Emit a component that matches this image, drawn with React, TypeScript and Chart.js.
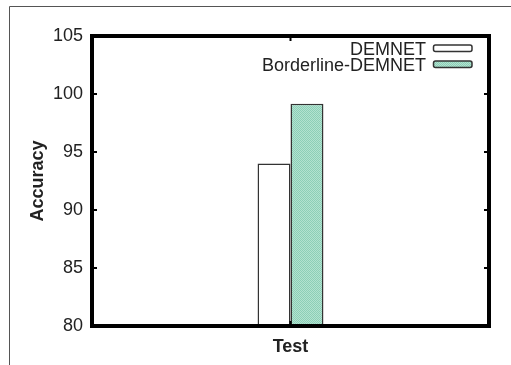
import React, { useEffect, useRef } from "react";
import { Chart, registerables } from "chart.js";
Chart.register(...registerables);

const categories = ["Test"];
const seriesNames = ["DEMNET", "Borderline-DEMNET"];
const demnet = [94.0];
const borderline = [99.15];
const yMin = 80;
const yMax = 105;
const yStep = 5;

function makePattern(): CanvasPattern | string {
  const c = document.createElement("canvas");
  c.width = 2;
  c.height = 2;
  const g = c.getContext("2d");
  if (!g) return "#a3dac6";
  g.fillStyle = "#b3e2d0";
  g.fillRect(0, 0, 2, 2);
  g.fillStyle = "#8ccfb7";
  g.fillRect(0, 0, 1, 1);
  g.fillRect(1, 1, 1, 1);
  const p = g.createPattern(c, "repeat");
  return p || "#a3dac6";
}

export default function App() {
  const ref = useRef<HTMLCanvasElement>(null);
  useEffect(() => {
    document.body.style.margin = "0";
    const pat = makePattern();
    const font = "'Liberation Sans', Arial, sans-serif";
    const fills = ["#ffffff", pat];
    const deco = {
      id: "deco",
      beforeDraw(chart: any) {
        const ctx = chart.ctx;
        ctx.save();
        ctx.fillStyle = "#fff";
        ctx.fillRect(0, 0, chart.width, chart.height);
        ctx.strokeStyle = "#555";
        ctx.lineWidth = 1;
        ctx.beginPath();
        ctx.moveTo(9.5, 365);
        ctx.lineTo(9.5, 6.5);
        ctx.lineTo(511, 6.5);
        ctx.stroke();
        ctx.restore();
      },
      afterDraw(chart: any) {
        const ctx = chart.ctx;
        const a = chart.chartArea;
        const y = chart.scales.y;
        const x = chart.scales.x;
        ctx.save();
        ctx.strokeStyle = "#000";
        ctx.lineWidth = 4;
        ctx.strokeRect(a.left, a.top, a.right - a.left, a.bottom - a.top);
        // inner ticks
        ctx.lineWidth = 2;
        ctx.beginPath();
        for (let v = yMin; v <= yMax; v += yStep) {
          const py = y.getPixelForValue(v);
          ctx.moveTo(a.left, py);
          ctx.lineTo(a.left + 5, py);
          ctx.moveTo(a.right, py);
          ctx.lineTo(a.right - 5, py);
        }
        const cx = x.getPixelForValue(0);
        ctx.moveTo(cx, a.top);
        ctx.lineTo(cx, a.top + 5);
        ctx.moveTo(cx, a.bottom);
        ctx.lineTo(cx, a.bottom - 5);
        ctx.stroke();
        // y title
        ctx.fillStyle = "#222";
        ctx.font = `bold 18px ${font}`;
        ctx.textAlign = "center";
        ctx.textBaseline = "middle";
        ctx.translate(38, (a.top + a.bottom) / 2);
        ctx.rotate(-Math.PI / 2);
        ctx.fillText("Accuracy", 0, 0);
        ctx.setTransform(1, 0, 0, 1, 0, 0);
        // legend
        ctx.font = `18px ${font}`;
        ctx.textAlign = "right";
        ctx.textBaseline = "middle";
        const rows = [48, 64];
        seriesNames.forEach((name, i) => {
          const ty = rows[i];
          ctx.fillStyle = "#222";
          ctx.fillText(name, 426, ty + 2);
          ctx.beginPath();
          ctx.roundRect(433.5, ty - 3, 38.5, 6.5, 2);
          ctx.fillStyle = fills[i] as any;
          ctx.fill();
          ctx.strokeStyle = "#333";
          ctx.lineWidth = 1.5;
          ctx.stroke();
        });
        ctx.restore();
      },
    };
    const chart = new Chart(ref.current as HTMLCanvasElement, {
      type: "bar",
      data: {
        labels: categories,
        datasets: [
          {
            label: seriesNames[0],
            data: demnet,
            backgroundColor: "#ffffff",
            borderColor: "#333",
            borderWidth: 1.5,
          },
          {
            label: seriesNames[1],
            data: borderline,
            backgroundColor: pat as any,
            borderColor: "#333",
            borderWidth: 1.5,
          },
        ],
      },
      options: {
        animation: false,
        responsive: false,
        devicePixelRatio: 1,
        layout: { padding: { top: 36, right: 22, left: 0, bottom: 0 } },
        plugins: { legend: { display: false }, tooltip: { enabled: false } },
        datasets: { bar: { barPercentage: 1, categoryPercentage: 0.166 } },
        scales: {
          x: {
            grid: { display: false, drawTicks: false },
            border: { display: false },
            ticks: {
              padding: 10,
              color: "#222",
              font: { family: font, size: 18, weight: "bold" },
            },
            afterFit(s: any) {
              s.height = 39;
            },
          },
          y: {
            min: yMin,
            max: yMax,
            grid: { display: false, drawTicks: false },
            border: { display: false },
            ticks: {
              stepSize: yStep,
              padding: 9,
              color: "#222",
              font: { family: font, size: 18 },
            },
            afterFit(s: any) {
              s.width = 92;
            },
          },
        },
      },
      plugins: [deco],
    });
    return () => chart.destroy();
  }, []);
  return <canvas ref={ref} width={511} height={365} style={{ display: "block" }} />;
}
